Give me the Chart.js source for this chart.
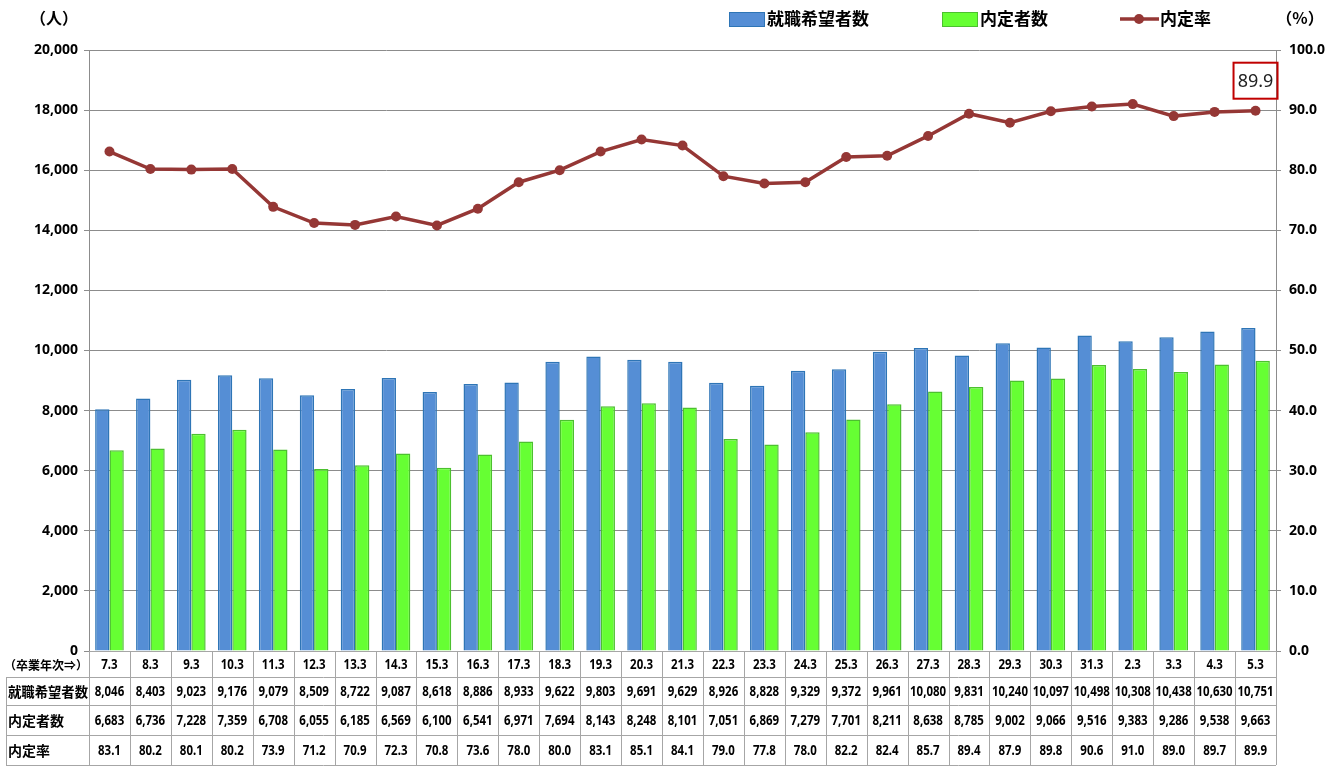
<!DOCTYPE html>
<html lang="ja">
<head>
<meta charset="UTF-8">
<title>就職希望者数・内定者数・内定率</title>
<script src="https://cdn.jsdelivr.net/npm/chart.js"></script>
<style>
  body { margin: 0; background: #fff; }
  #wrap { width: 1338px; height: 767px; position: relative; }
</style>
</head>
<body>
<div id="wrap">
  <canvas id="jobChart" width="1338" height="767"></canvas>
</div>

<script>
    // 卒業年次
    const years = ['7.3','8.3','9.3','10.3','11.3','12.3','13.3','14.3','15.3','16.3','17.3','18.3','19.3','20.3',
                   '21.3','22.3','23.3','24.3','25.3','26.3','27.3','28.3','29.3','30.3','31.3','2.3','3.3','4.3','5.3'];
    // 就職希望者数
    const applicants = [8046,8403,9023,9176,9079,8509,8722,9087,8618,8886,8933,9622,9803,9691,
                        9629,8926,8828,9329,9372,9961,10080,9831,10240,10097,10498,10308,10438,10630,10751];
    // 内定者数
    const offers = [6683,6736,7228,7359,6708,6055,6185,6569,6100,6541,6971,7694,8143,8248,
                    8101,7051,6869,7279,7701,8211,8638,8785,9002,9066,9516,9383,9286,9538,9663];
    // 内定率
    const offerRate = [83.1,80.2,80.1,80.2,73.9,71.2,70.9,72.3,70.8,73.6,78.0,80.0,83.1,85.1,
                       84.1,79.0,77.8,78.0,82.2,82.4,85.7,89.4,87.9,89.8,90.6,91.0,89.0,89.7,89.9];
    const labelApplicants = '就職希望者数';
    const labelOffers = '内定者数';
    const labelRate = '内定率';

    const numFont = '"Liberation Sans Narrow", "Noto Sans", sans-serif';
    const jpFont = '"Noto Sans CJK JP", sans-serif';
    const gridColor = '#8c8c8c';
    const fmt = v => v.toLocaleString('en-US');

    // 下の表と凡例・ラベルを描く
    const tablePlugin = {
        id: 'tablePlugin',
        afterDraw(chart) {
            const c = chart.ctx;
            const area = chart.chartArea;
            const x = chart.scales.x;
            const n = years.length;
            const colW = (area.right - area.left) / n;
            const rowsY = [area.bottom, area.bottom + 26, area.bottom + 54, area.bottom + 84, area.bottom + 114];
            c.save();
            c.strokeStyle = '#a6a6a6';
            c.lineWidth = 1;
            // horizontal lines
            c.beginPath();
            c.moveTo(area.left, rowsY[0] + 0.5); c.lineTo(area.right, rowsY[0] + 0.5);
            for (let r = 1; r < rowsY.length; r++) {
                c.moveTo(6, rowsY[r] + 0.5); c.lineTo(area.right, rowsY[r] + 0.5);
            }
            // vertical lines
            for (let i = 0; i <= n; i++) {
                const xx = Math.round(area.left + i * colW) + 0.5;
                c.moveTo(xx, rowsY[0]); c.lineTo(xx, rowsY[4]);
            }
            c.moveTo(6.5, rowsY[1]); c.lineTo(6.5, rowsY[4]);
            c.stroke();

            c.fillStyle = '#000';
            c.textAlign = 'center';
            c.textBaseline = 'middle';
            const rows = [years, applicants.map(fmt), offers.map(fmt), offerRate.map(v => v.toFixed(1))];
            rows.forEach((vals, r) => {
                const cy = (rowsY[r] + rowsY[r + 1]) / 2 + 1;
                c.font = 'bold 14px ' + numFont;
                vals.forEach((v, i) => {
                    const w = c.measureText(v).width * 0.82;
                    c.fillText(v, x.getPixelForValue(i), cy, Math.min(w, colW - 3));
                });
            });
            // row titles
            c.textAlign = 'left';
            c.font = 'bold 12px ' + jpFont;
            c.fillText('（卒業年次⇒）', 4, (rowsY[0] + rowsY[1]) / 2 + 1, 84);
            c.font = 'bold 14px ' + jpFont;
            c.fillText(labelApplicants, 8, (rowsY[1] + rowsY[2]) / 2 + 1, 80);
            c.fillText(labelOffers, 8, (rowsY[2] + rowsY[3]) / 2 + 1);
            c.fillText(labelRate, 8, (rowsY[3] + rowsY[4]) / 2 + 1);

            // units
            c.font = 'bold 16px ' + jpFont;
            c.textAlign = 'center';
            c.fillText('（人）', 54, 18);
            c.fillText('（%）', 1300, 18);

            // legend
            const ly = 19;
            c.font = 'bold 17px ' + jpFont;
            c.textAlign = 'left';
            c.fillStyle = '#558ED5'; c.strokeStyle = '#2E75B6'; c.lineWidth = 1;
            c.fillRect(729, 12, 35, 14); c.strokeRect(729.5, 12.5, 35, 14);
            c.fillStyle = '#000'; c.fillText(labelApplicants, 767, ly);
            c.fillStyle = '#66FF33'; c.strokeStyle = '#4CC02F';
            c.fillRect(942, 12, 35, 14); c.strokeRect(942.5, 12.5, 35, 14);
            c.fillStyle = '#000'; c.fillText(labelOffers, 980, ly);
            c.strokeStyle = '#953735'; c.lineWidth = 3.5;
            c.beginPath(); c.moveTo(1120, ly); c.lineTo(1159, ly); c.stroke();
            c.fillStyle = '#953735';
            c.beginPath(); c.arc(1139, ly, 5, 0, Math.PI * 2); c.fill();
            c.fillStyle = '#000'; c.fillText(labelRate, 1160, ly);

            // last value label in a red box
            const meta = chart.getDatasetMeta(2);
            const last = meta.data[meta.data.length - 1];
            const bx = last.x - 22, by = last.y - 48;
            c.strokeStyle = '#C00000'; c.lineWidth = 2;
            c.strokeRect(bx, by, 44, 36);
            c.fillStyle = '#222';
            c.font = '18px ' + numFont;
            c.textAlign = 'center';
            c.fillText(offerRate[offerRate.length - 1].toFixed(1), last.x, by + 19, 38);
            c.restore();
        }
    };

    const ctx = document.getElementById('jobChart').getContext('2d');
    const jobChart = new Chart(ctx, {
        type: 'bar',
        data: {
            labels: years,
            datasets: [{
                label: labelApplicants,
                data: applicants,
                backgroundColor: '#558ED5',
                borderColor: '#2E75B6',
                borderWidth: 1.5,
                yAxisID: 'y',
                order: 2
            }, {
                label: labelOffers,
                data: offers,
                backgroundColor: '#66FF33',
                borderColor: '#4CC02F',
                borderWidth: 1.5,
                yAxisID: 'y',
                order: 2
            }, {
                type: 'line',
                label: labelRate,
                data: offerRate,
                borderColor: '#953735',
                backgroundColor: '#953735',
                borderWidth: 3.5,
                pointRadius: 5,
                pointBackgroundColor: '#953735',
                pointBorderWidth: 0,
                yAxisID: 'y2',
                order: 0
            }]
        },
        options: {
            responsive: false,
            animation: false,
            layout: { padding: { top: 50, bottom: 116, left: 0, right: 0 } },
            datasets: { bar: { categoryPercentage: 0.7, barPercentage: 1.0 } },
            plugins: { legend: { display: false }, tooltip: { enabled: false } },
            scales: {
                x: { display: false },
                y: {
                    position: 'left',
                    min: 0, max: 20000,
                    afterFit(s) { s.width = 89; },
                    ticks: { stepSize: 2000, color: '#000', padding: 6,
                             font: { family: numFont, size: 14, weight: 'bold' },
                             callback: v => fmt(v) },
                    grid: { color: gridColor, tickLength: 5 },
                    border: { color: gridColor }
                },
                y2: {
                    position: 'right',
                    min: 0, max: 100,
                    afterFit(s) { s.width = 62; },
                    ticks: { stepSize: 10, color: '#000', padding: 8,
                             font: { family: numFont, size: 14, weight: 'bold' },
                             callback: v => v.toFixed(1) },
                    grid: { drawOnChartArea: false, color: gridColor, tickLength: 5 },
                    border: { color: gridColor }
                }
            }
        },
        plugins: [tablePlugin]
    });
</script>
</body>
</html>
